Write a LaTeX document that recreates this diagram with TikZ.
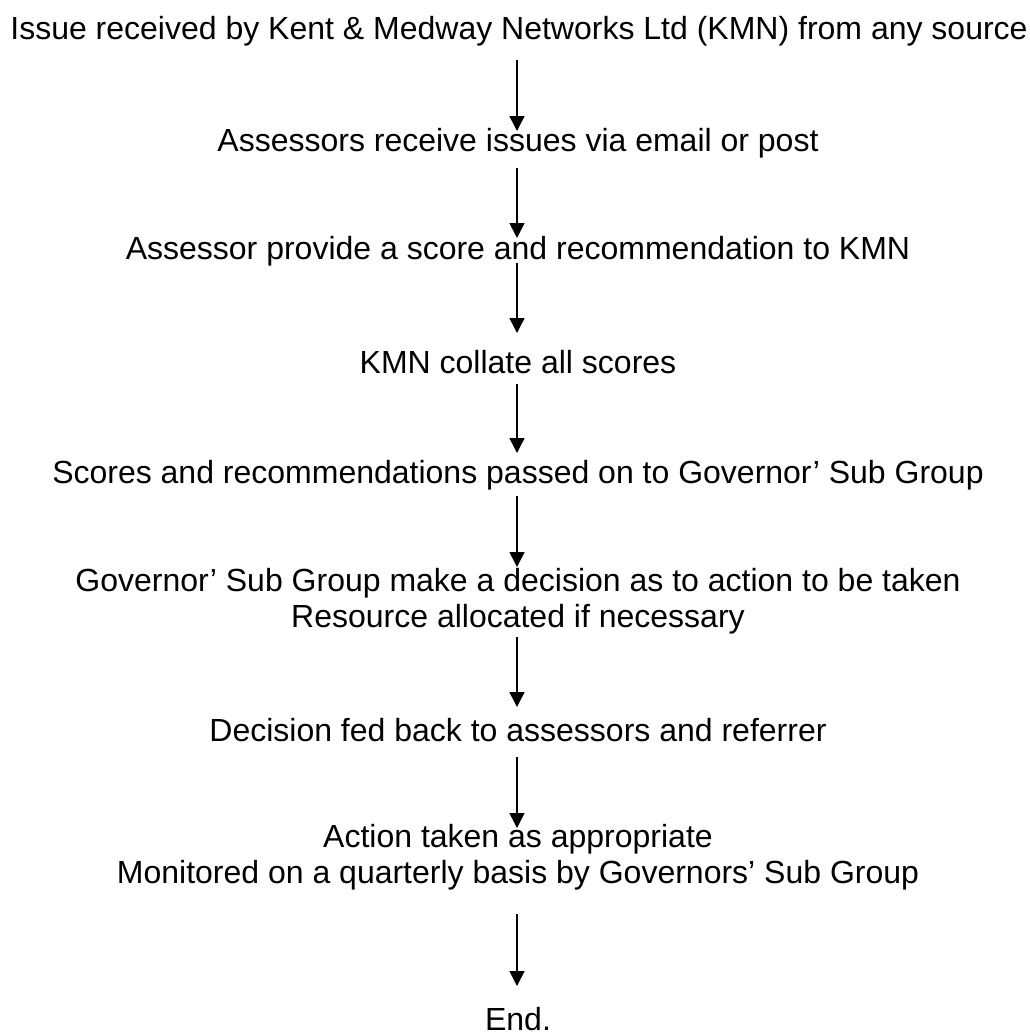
\documentclass[tikz,border=0pt]{standalone}
\usepackage{fontspec}
\setmainfont{Liberation Sans}
\usetikzlibrary{arrows.meta}
\tikzset{
  lbl/.style={anchor=base, inner sep=0pt, align=center, font=\fontsize{32}{36}\selectfont},
  arr/.style={line width=1.5pt, -{Triangle[width=15pt,length=15pt]}}
}
\begin{document}
\begin{tikzpicture}[x=1pt,y=-1pt]
\useasboundingbox (0,0) rectangle (1030,1034);
\node[lbl] (n1) at (519,39) {Issue received by Kent \& Medway Networks Ltd (KMN) from any source};
\node[lbl] (n2) at (518,151) {Assessors receive issues via email or post};
\node[lbl] (n3) at (518,259) {Assessor provide a score and recommendation to KMN};
\node[lbl] (n4) at (518,373) {KMN collate all scores};
\node[lbl] (n5) at (518,483) {Scores and recommendations passed on to Governor’ Sub Group};
\node[lbl] (n6) at (518,627) {Governor’ Sub Group make a decision as to action to be taken\\Resource allocated if necessary};
\node[lbl] (n7) at (518,741) {Decision fed back to assessors and referrer};
\node[lbl] (n8) at (518,883) {Action taken as appropriate\\Monitored on a quarterly basis by Governors’ Sub Group};
\node[lbl] (n9) at (518,1030) {End.};
\draw[arr] ([yshift=-21pt]n1.base -| 517,0) -- ([yshift=20pt]n2.base -| 517,0);
\draw[arr] ([yshift=-17pt]n2.base -| 517,0) -- ([yshift=21pt]n3.base -| 517,0);
\draw[arr] ([yshift=-4pt]n3.base -| 517,0) -- ([yshift=40pt]n4.base -| 517,0);
\draw[arr] ([yshift=-11pt]n4.base -| 517,0) -- ([yshift=30pt]n5.base -| 517,0);
\draw[arr] ([yshift=-13pt]n5.base -| 517,0) -- ([yshift=60pt]n6.base -| 517,0);
\draw[arr] ([yshift=-10pt]n6.base -| 517,0) -- ([yshift=34pt]n7.base -| 517,0);
\draw[arr] ([yshift=-16pt]n7.base -| 517,0) -- ([yshift=55pt]n8.base -| 517,0);
\draw[arr] ([yshift=-31pt]n8.base -| 517,0) -- ([yshift=44pt]n9.base -| 517,0);
\end{tikzpicture}
\end{document}
